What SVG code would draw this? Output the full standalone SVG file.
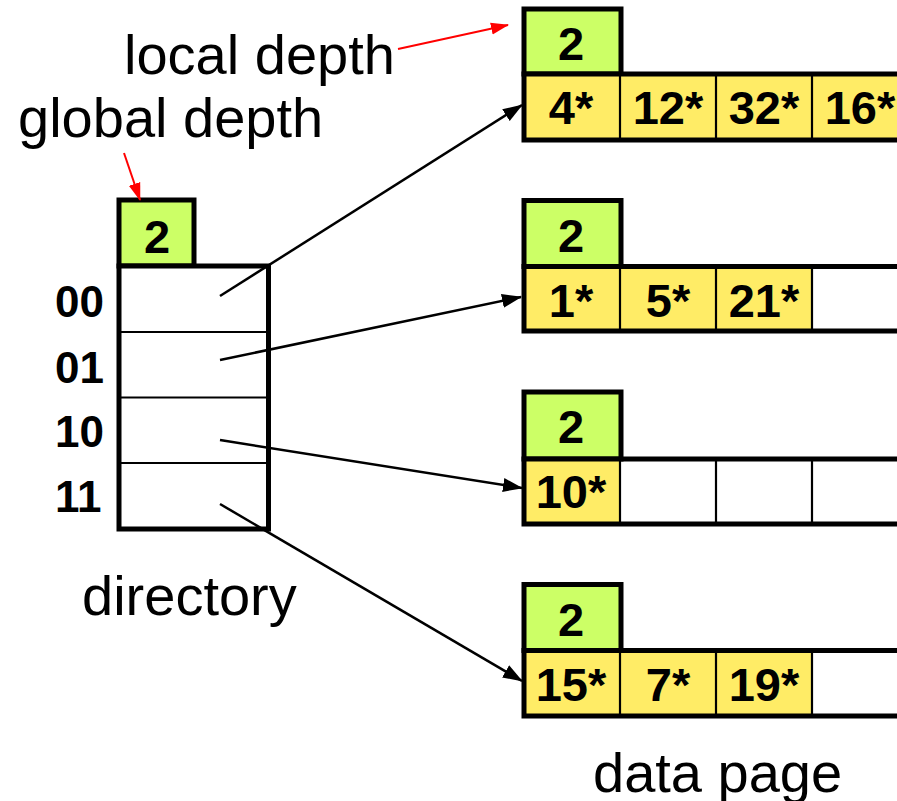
<svg xmlns="http://www.w3.org/2000/svg" width="897" height="801" viewBox="0 0 897 801">
  <style>
    .lbl { font-family: "Liberation Sans", Arial, sans-serif; font-size: 56px; fill: #000; }
    .num { font-family: "Liberation Sans", Arial, sans-serif; font-size: 47px; font-weight: bold; fill: #000; text-anchor: middle; }
    .bits { font-family: "Liberation Sans", Arial, sans-serif; font-size: 44px; font-weight: bold; fill: #000; }
    .green { fill: #CCFF66; stroke: #000; stroke-width: 5; }
    .yellow { fill: #FFEC66; stroke: none; }
    .thick { fill: none; stroke: #000; stroke-width: 5; }
    .thin { fill: none; stroke: #000; stroke-width: 2.2; }
    .ptr { fill: none; stroke: #000; stroke-width: 2.5; }
    .note { fill: none; stroke: #FF0000; stroke-width: 2; }
  </style>
  <defs>
    <marker id="arrow" markerUnits="userSpaceOnUse" markerWidth="20" markerHeight="16" refX="19" refY="8" orient="auto">
      <path d="M0,1 L20,8 L0,15 Z" fill="#000"/>
    </marker>
    <marker id="arrowRed" markerUnits="userSpaceOnUse" markerWidth="18" markerHeight="14" refX="17" refY="7" orient="auto">
      <path d="M0,1 L18,7 L0,13 Z" fill="#FF0000"/>
    </marker>
  </defs>

  <rect width="897" height="801" fill="#fff"/>

  <!-- annotations -->
  <text class="lbl" x="124" y="74">local depth</text>
  <text class="lbl" x="18" y="137">global depth</text>
  <text class="lbl" x="82" y="615">directory</text>
  <text class="lbl" x="593" y="792">data page</text>

  <!-- directory -->
  <g id="directory">
    <rect class="green" x="119" y="200" width="75" height="66"/>
    <text class="num" x="157" y="253">2</text>
    <rect x="119" y="266" width="149.5" height="263" fill="#fff" stroke="#000" stroke-width="5"/>
    <path class="thin" d="M121,332 H266 M121,397.5 H266 M121,463 H266"/>
    <text class="bits" x="55" y="317">00</text>
    <text class="bits" x="55" y="383">01</text>
    <text class="bits" x="55" y="447">10</text>
    <text class="bits" x="55" y="512">11</text>
  </g>

  <!-- bucket A -->
  <g id="bucketA">
    <rect class="green" x="524" y="9" width="97" height="65"/>
    <text class="num" x="571" y="60">2</text>
    <rect class="yellow" x="524" y="74" width="380" height="66"/>
    <path class="thick" d="M904,74 H524 V140 H904"/>
    <path class="thin" d="M620,74 V140 M716,74 V140 M812,74 V140"/>
    <text class="num" x="571" y="124">4*</text>
    <text class="num" x="668" y="124">12*</text>
    <text class="num" x="764" y="124">32*</text>
    <text class="num" x="860" y="124">16*</text>
  </g>

  <!-- bucket B -->
  <g id="bucketB">
    <rect class="green" x="524" y="200.5" width="97" height="66"/>
    <text class="num" x="571" y="252">2</text>
    <rect class="yellow" x="524" y="266.5" width="288" height="64.5"/>
    <path class="thick" d="M904,266.5 H524 V331 H904"/>
    <path class="thin" d="M620,266.5 V331 M716,266.5 V331 M812,266.5 V331"/>
    <text class="num" x="571" y="317">1*</text>
    <text class="num" x="668" y="317">5*</text>
    <text class="num" x="764" y="317">21*</text>
  </g>

  <!-- bucket C -->
  <g id="bucketC">
    <rect class="green" x="524" y="392" width="97" height="67"/>
    <text class="num" x="571" y="443">2</text>
    <rect class="yellow" x="524" y="459" width="96" height="65"/>
    <path class="thick" d="M904,459 H524 V524 H904"/>
    <path class="thin" d="M620,459 V524 M716,459 V524 M812,459 V524"/>
    <text class="num" x="571" y="508">10*</text>
  </g>

  <!-- bucket D -->
  <g id="bucketD">
    <rect class="green" x="524" y="584.5" width="97" height="66"/>
    <text class="num" x="571" y="636">2</text>
    <rect class="yellow" x="524" y="650.5" width="288" height="65.5"/>
    <path class="thick" d="M904,650.5 H524 V716 H904"/>
    <path class="thin" d="M620,650.5 V716 M716,650.5 V716 M812,650.5 V716"/>
    <text class="num" x="571" y="701">15*</text>
    <text class="num" x="668" y="701">7*</text>
    <text class="num" x="764" y="701">19*</text>
  </g>

  <!-- connectors -->
  <g id="connectors">
    <line class="ptr" x1="220" y1="296" x2="522" y2="105" marker-end="url(#arrow)"/>
    <line class="ptr" x1="220" y1="360" x2="521" y2="297" marker-end="url(#arrow)"/>
    <line class="ptr" x1="220" y1="440" x2="522" y2="488" marker-end="url(#arrow)"/>
    <line class="ptr" x1="220" y1="504" x2="522" y2="681" marker-end="url(#arrow)"/>
    <line class="note" x1="398" y1="49" x2="508" y2="25" marker-end="url(#arrowRed)"/>
    <line class="note" x1="124" y1="153" x2="140" y2="200" marker-end="url(#arrowRed)"/>
  </g>
</svg>
